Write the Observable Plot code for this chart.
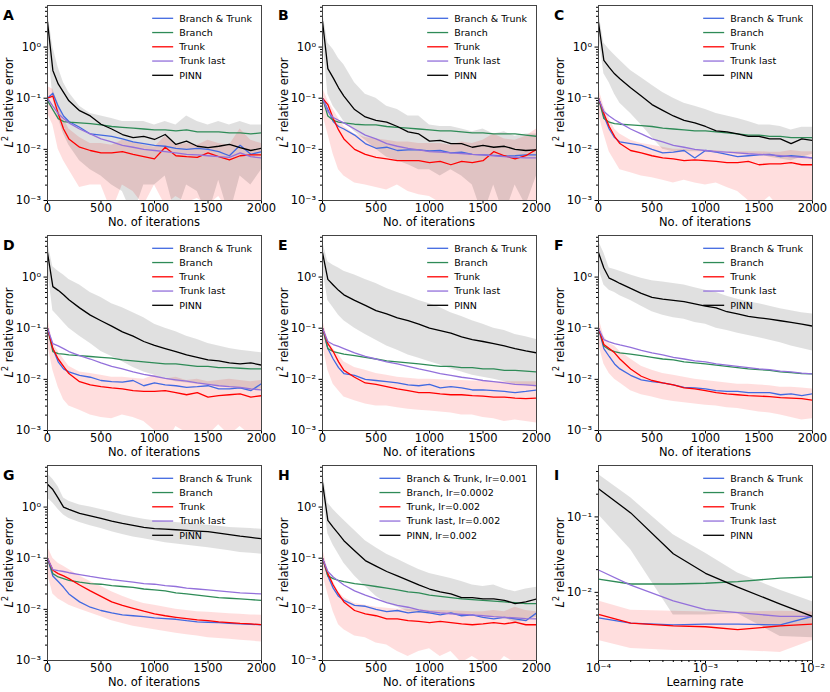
<!DOCTYPE html>
<html><head><meta charset="utf-8">
<script src="https://cdn.jsdelivr.net/npm/d3@7"></script>
<script src="https://cdn.jsdelivr.net/npm/@observablehq/plot@0.6"></script>
<style>
body{margin:0;background:#fff;}
#wrap{position:relative;width:830px;height:692px;font-family:"DejaVu Sans",sans-serif;}
.panel{position:absolute;}
</style></head><body><div id="wrap"></div><script>
// ---------- shared data ----------
const iters = [0,50,100,150,200,300,400,500,600,700,800,900,1000,1100,1200,1300,1400,1500,1600,1700,1800,1900,2000];
const learningRates = [1e-4,2e-4,5e-4,1e-3,2e-3,5e-3,1e-2];
const seriesNames = ["Branch & Trunk","Branch","Trunk","Trunk last","PINN"];
const seriesNamesH = ["Branch & Trunk, lr=0.001","Branch, lr=0.0002","Trunk, lr=0.002","Trunk last, lr=0.002","PINN, lr=0.002"];
const xTicksIter = [0,500,1000,1500,2000];
const xTicksLr = [1e-4,1e-3,1e-2];
const yTicksMain = [1e-3,1e-2,1e-1,1];
const yTicksI = [1e-2,1e-1];

// ---------- panel A ----------
const A_bt = [0.1,0.125,0.07,0.045,0.035,0.027,0.02,0.019,0.018,0.016,0.014,0.013,0.012,0.0115,0.0105,0.01,0.0105,0.01,0.009,0.0075,0.012,0.008,0.009];
const A_br = [0.09,0.06,0.04,0.035,0.034,0.033,0.032,0.03,0.028,0.027,0.026,0.025,0.024,0.024,0.023,0.024,0.022,0.022,0.022,0.021,0.021,0.02,0.021];
const A_tr = [0.1,0.11,0.05,0.025,0.016,0.011,0.0095,0.0085,0.0085,0.009,0.008,0.0072,0.0065,0.011,0.0075,0.0072,0.007,0.0085,0.0072,0.0062,0.0075,0.0078,0.0078];
const A_tl = [0.1,0.07,0.05,0.04,0.033,0.025,0.02,0.016,0.014,0.012,0.011,0.01,0.0095,0.009,0.0085,0.008,0.0078,0.0075,0.0072,0.007,0.0085,0.0072,0.0068];
const A_pinn = [3.1,0.35,0.19,0.13,0.089,0.057,0.045,0.031,0.025,0.0195,0.017,0.018,0.0156,0.0195,0.0125,0.0145,0.0115,0.0108,0.0115,0.0125,0.0108,0.0095,0.0105];
const A_pinnHi = [5,1.0,0.4,0.2,0.13,0.07,0.05,0.045,0.04,0.035,0.035,0.035,0.03,0.035,0.03,0.045,0.035,0.03,0.035,0.03,0.035,0.03,0.03];
const A_pinnLo = [1.5,0.1,0.04,0.02,0.012,0.006,0.004,0.003,0.002,0.0015,0.0005,0.002,0.002,0.003,0.0005,0.002,0.0015,0.0005,0.0025,0.0005,0.003,0.002,0.004];
const A_trHi = [0.17,0.15,0.08,0.04,0.025,0.017,0.013,0.013,0.012,0.015,0.014,0.012,0.011,0.018,0.012,0.013,0.012,0.015,0.013,0.012,0.025,0.015,0.013];
const A_trLo = [0.05,0.03,0.01,0.006,0.004,0.0018,0.002,0.002,0.0006,0.002,0.0015,0.0008,0.002,0.0008,0.0012,0.0009,0.0011,0.0008,0.0012,0.0006,0.001,0.0008,0.0009];

// ---------- panel B ----------
const B_bt = [0.1,0.06,0.035,0.028,0.025,0.019,0.013,0.0105,0.011,0.0095,0.0098,0.0098,0.0093,0.0095,0.0085,0.0088,0.008,0.0078,0.0076,0.0074,0.0075,0.0078,0.0078];
const B_br = [0.1,0.045,0.037,0.034,0.033,0.031,0.03,0.03,0.028,0.027,0.026,0.025,0.024,0.023,0.023,0.022,0.021,0.021,0.02,0.02,0.02,0.019,0.018];
const B_tr = [0.1,0.075,0.04,0.024,0.016,0.01,0.008,0.007,0.0065,0.006,0.006,0.006,0.0055,0.0058,0.005,0.0058,0.0055,0.006,0.009,0.0075,0.0065,0.0075,0.01];
const B_tl = [0.1,0.055,0.042,0.037,0.033,0.025,0.019,0.016,0.013,0.0115,0.0105,0.0098,0.009,0.0088,0.0085,0.0083,0.008,0.0078,0.0075,0.0072,0.007,0.0068,0.0068];
const B_pinn = [3.2,0.38,0.25,0.16,0.11,0.06,0.043,0.037,0.034,0.028,0.022,0.02,0.0145,0.015,0.013,0.013,0.011,0.012,0.011,0.0115,0.01,0.0095,0.0098];
const B_pinnHi = [5,1.2,0.9,0.6,0.45,0.2,0.12,0.1,0.07,0.06,0.045,0.045,0.03,0.028,0.028,0.025,0.022,0.025,0.02,0.022,0.018,0.02,0.02];
const B_pinnLo = [1.6,0.12,0.07,0.05,0.035,0.022,0.015,0.01,0.007,0.006,0.005,0.004,0.004,0.003,0.004,0.003,0.002,0.0005,0.002,0.0005,0.002,0.0008,0.003];
const B_trHi = [0.16,0.09,0.06,0.04,0.028,0.02,0.017,0.016,0.015,0.014,0.014,0.013,0.013,0.013,0.012,0.014,0.013,0.015,0.02,0.016,0.015,0.018,0.025];
const B_trLo = [0.05,0.02,0.008,0.004,0.003,0.0022,0.002,0.0018,0.0016,0.002,0.0015,0.0013,0.0012,0.0009,0.001,0.0008,0.0009,0.0008,0.0006,0.0007,0.0005,0.0005,0.0008];

// ---------- panel C ----------
const C_bt = [0.1,0.045,0.025,0.017,0.014,0.013,0.012,0.01,0.0085,0.0088,0.0095,0.0068,0.0095,0.0088,0.008,0.0072,0.0075,0.0078,0.008,0.0072,0.0075,0.0072,0.0068];
const C_br = [0.1,0.04,0.034,0.032,0.031,0.03,0.029,0.028,0.026,0.025,0.024,0.023,0.023,0.022,0.021,0.02,0.019,0.019,0.018,0.018,0.017,0.017,0.017];
const C_tr = [0.1,0.05,0.028,0.018,0.013,0.0095,0.0085,0.0075,0.0068,0.0065,0.006,0.0062,0.006,0.0058,0.0055,0.0055,0.0058,0.005,0.0052,0.0052,0.0055,0.005,0.005];
const C_tl = [0.1,0.055,0.045,0.038,0.033,0.025,0.02,0.016,0.014,0.012,0.011,0.01,0.0095,0.009,0.0088,0.0085,0.0082,0.008,0.0078,0.0075,0.0072,0.007,0.0068];
const C_pinn = [3,0.55,0.4,0.3,0.24,0.16,0.11,0.075,0.058,0.045,0.037,0.033,0.028,0.023,0.022,0.02,0.018,0.018,0.016,0.016,0.013,0.016,0.015];
const C_pinnHi = [5,1.2,0.9,0.7,0.55,0.35,0.25,0.18,0.13,0.1,0.08,0.07,0.06,0.05,0.045,0.04,0.035,0.03,0.03,0.028,0.024,0.027,0.027];
const C_pinnLo = [1.8,0.3,0.2,0.12,0.08,0.05,0.03,0.017,0.01,0.009,0.009,0.009,0.009,0.0085,0.009,0.008,0.008,0.008,0.007,0.0065,0.006,0.007,0.008];
const C_trHi = [0.16,0.07,0.04,0.025,0.02,0.015,0.013,0.012,0.011,0.01,0.01,0.0095,0.0095,0.0095,0.009,0.009,0.009,0.009,0.0088,0.0088,0.0095,0.009,0.009];
const C_trLo = [0.05,0.02,0.009,0.006,0.004,0.0035,0.003,0.0028,0.0025,0.0022,0.0025,0.0022,0.002,0.0022,0.0018,0.0015,0.001,0.0008,0.0012,0.0007,0.0009,0.0008,0.0009];

// ---------- panel D ----------
const D_bt = [0.1,0.04,0.022,0.016,0.014,0.012,0.011,0.0095,0.009,0.0088,0.0095,0.0075,0.0085,0.0078,0.0075,0.007,0.0072,0.0075,0.0065,0.0065,0.0068,0.006,0.0082];
const D_br = [0.1,0.035,0.032,0.031,0.03,0.029,0.028,0.027,0.026,0.024,0.023,0.022,0.021,0.02,0.02,0.019,0.018,0.018,0.017,0.017,0.0165,0.016,0.016];
const D_tr = [0.1,0.04,0.025,0.018,0.013,0.009,0.0078,0.0072,0.0068,0.0065,0.006,0.0058,0.0058,0.006,0.0055,0.005,0.0055,0.0045,0.0048,0.005,0.0052,0.0045,0.0048];
const D_tl = [0.1,0.05,0.045,0.04,0.035,0.029,0.025,0.021,0.018,0.016,0.014,0.0125,0.0115,0.0105,0.0098,0.0092,0.0085,0.008,0.0075,0.0072,0.007,0.0065,0.0062];
const D_pinn = [3,0.65,0.55,0.45,0.36,0.25,0.18,0.14,0.11,0.085,0.07,0.055,0.046,0.04,0.035,0.03,0.027,0.024,0.023,0.021,0.02,0.021,0.019];
const D_pinnHi = [5,1.6,1.3,1.1,0.9,0.7,0.5,0.4,0.3,0.25,0.2,0.16,0.12,0.1,0.085,0.07,0.06,0.05,0.045,0.04,0.037,0.035,0.033];
const D_pinnLo = [1.5,0.22,0.17,0.13,0.1,0.07,0.05,0.035,0.028,0.022,0.017,0.014,0.012,0.01,0.009,0.0085,0.008,0.0078,0.0075,0.007,0.0065,0.006,0.0065];
const D_trHi = [0.17,0.05,0.035,0.025,0.018,0.014,0.013,0.012,0.011,0.011,0.0105,0.01,0.012,0.01,0.011,0.0095,0.01,0.009,0.0095,0.01,0.0095,0.009,0.0095];
const D_trLo = [0.05,0.015,0.007,0.004,0.003,0.0025,0.002,0.0018,0.0017,0.002,0.0018,0.0015,0.001,0.0005,0.0012,0.0009,0.001,0.0008,0.0013,0.0008,0.0012,0.0008,0.0009];

// ---------- panel E ----------
const E_bt = [0.1,0.04,0.025,0.017,0.013,0.012,0.01,0.0095,0.009,0.0085,0.0078,0.0075,0.008,0.0068,0.0072,0.0068,0.0062,0.0062,0.006,0.0058,0.0055,0.0058,0.0062];
const E_br = [0.1,0.04,0.035,0.033,0.031,0.029,0.027,0.025,0.023,0.022,0.021,0.02,0.019,0.018,0.018,0.017,0.017,0.016,0.016,0.015,0.015,0.0145,0.014];
const E_tr = [0.1,0.05,0.035,0.022,0.015,0.011,0.0085,0.008,0.0072,0.0065,0.006,0.0055,0.0055,0.0052,0.005,0.005,0.0048,0.0047,0.0045,0.0045,0.0043,0.0042,0.0043];
const E_tl = [0.1,0.055,0.048,0.044,0.04,0.033,0.028,0.025,0.022,0.02,0.018,0.016,0.0145,0.013,0.012,0.011,0.0103,0.0095,0.009,0.0085,0.008,0.0078,0.0075];
const E_pinn = [3,0.9,0.7,0.55,0.45,0.35,0.28,0.22,0.19,0.16,0.14,0.12,0.1,0.09,0.08,0.068,0.06,0.055,0.05,0.045,0.04,0.036,0.033];
const E_pinnHi = [5,2,1.7,1.5,1.3,1.1,0.9,0.75,0.6,0.5,0.42,0.35,0.3,0.25,0.2,0.17,0.14,0.12,0.1,0.09,0.075,0.068,0.06];
const E_pinnLo = [1.5,0.35,0.25,0.18,0.14,0.1,0.075,0.058,0.045,0.037,0.03,0.026,0.022,0.019,0.016,0.014,0.012,0.011,0.01,0.009,0.008,0.0075,0.007];
const E_trHi = [0.15,0.06,0.04,0.03,0.022,0.017,0.015,0.013,0.012,0.011,0.0105,0.01,0.01,0.0098,0.0095,0.0095,0.0093,0.0092,0.009,0.009,0.009,0.009,0.009];
const E_trLo = [0.05,0.015,0.008,0.006,0.0045,0.0038,0.0033,0.003,0.003,0.0028,0.0026,0.0025,0.0024,0.0023,0.0022,0.002,0.002,0.0018,0.0017,0.0015,0.0016,0.0015,0.0014];

// ---------- panel F ----------
const F_bt = [0.1,0.04,0.028,0.02,0.016,0.012,0.0098,0.009,0.0085,0.0078,0.007,0.0068,0.0065,0.006,0.0058,0.0058,0.0055,0.0055,0.0055,0.005,0.0052,0.0048,0.0052];
const F_br = [0.1,0.045,0.038,0.035,0.033,0.031,0.029,0.027,0.025,0.024,0.022,0.021,0.02,0.019,0.018,0.017,0.016,0.0155,0.015,0.014,0.0135,0.013,0.0128];
const F_tr = [0.1,0.048,0.04,0.033,0.025,0.016,0.0115,0.0095,0.0085,0.0078,0.0068,0.0065,0.006,0.0055,0.0052,0.005,0.0048,0.0047,0.0046,0.0044,0.0043,0.0042,0.0039];
const F_tl = [0.1,0.06,0.054,0.05,0.047,0.042,0.037,0.033,0.03,0.027,0.025,0.023,0.022,0.02,0.019,0.018,0.017,0.016,0.0155,0.0145,0.014,0.0133,0.0128];
const F_pinn = [3,1.5,0.95,0.85,0.75,0.6,0.48,0.4,0.37,0.35,0.33,0.3,0.27,0.25,0.21,0.19,0.17,0.16,0.15,0.14,0.13,0.12,0.11];
const F_pinnHi = [5,3,1.5,1.4,1.3,1.1,0.95,0.85,0.8,0.75,0.7,0.62,0.55,0.5,0.42,0.37,0.33,0.3,0.27,0.24,0.22,0.2,0.19];
const F_pinnLo = [1.5,0.7,0.55,0.5,0.43,0.35,0.27,0.21,0.18,0.16,0.15,0.13,0.12,0.1,0.09,0.08,0.072,0.065,0.058,0.052,0.045,0.04,0.036];
const F_trHi = [0.17,0.07,0.05,0.045,0.035,0.025,0.018,0.015,0.013,0.012,0.011,0.01,0.0095,0.009,0.0085,0.008,0.008,0.0078,0.0075,0.007,0.007,0.0068,0.0065];
const F_trLo = [0.05,0.02,0.013,0.01,0.0085,0.006,0.005,0.0045,0.004,0.0037,0.0035,0.0033,0.0031,0.003,0.0028,0.0027,0.0025,0.0023,0.0022,0.002,0.0018,0.0016,0.0017];

// ---------- panel G ----------
const G_bt = [0.1,0.045,0.035,0.027,0.02,0.014,0.011,0.0095,0.0085,0.0078,0.0075,0.0072,0.0068,0.0066,0.0064,0.006,0.0057,0.0056,0.0055,0.0053,0.0052,0.0051,0.005];
const G_br = [0.1,0.05,0.043,0.04,0.037,0.034,0.032,0.031,0.029,0.028,0.027,0.025,0.024,0.023,0.021,0.02,0.019,0.018,0.017,0.0165,0.016,0.0155,0.015];
const G_tr = [0.1,0.058,0.05,0.045,0.04,0.03,0.023,0.018,0.014,0.012,0.0105,0.0092,0.0082,0.0075,0.007,0.0066,0.0062,0.006,0.0057,0.0055,0.0053,0.0052,0.005];
const G_tl = [0.1,0.06,0.057,0.055,0.052,0.048,0.044,0.041,0.038,0.036,0.034,0.032,0.031,0.029,0.028,0.026,0.025,0.024,0.023,0.022,0.021,0.0205,0.02];
const G_pinn = [2.8,2.2,1.5,1.0,0.9,0.75,0.67,0.6,0.53,0.48,0.44,0.4,0.38,0.37,0.36,0.35,0.34,0.33,0.31,0.29,0.27,0.255,0.24];
const G_pinnHi = [4.5,3.5,2.5,1.5,1.3,1.1,1.0,0.9,0.8,0.7,0.63,0.58,0.54,0.52,0.5,0.48,0.46,0.44,0.42,0.4,0.39,0.38,0.37];
const G_pinnLo = [1.5,1.2,0.9,0.7,0.6,0.5,0.43,0.38,0.33,0.29,0.26,0.24,0.22,0.2,0.19,0.18,0.17,0.16,0.15,0.14,0.13,0.125,0.12];
const G_trHi = [0.17,0.1,0.08,0.07,0.06,0.045,0.035,0.028,0.022,0.018,0.015,0.013,0.012,0.011,0.01,0.0095,0.009,0.0088,0.0085,0.0082,0.008,0.0078,0.0077];
const G_trLo = [0.05,0.02,0.016,0.014,0.012,0.01,0.0085,0.0072,0.006,0.0053,0.0047,0.0043,0.004,0.0037,0.0034,0.0032,0.003,0.0028,0.0027,0.0026,0.0025,0.0024,0.0023];

// ---------- panel H ----------
const H_bt = [0.1,0.045,0.026,0.018,0.015,0.012,0.0115,0.01,0.009,0.0095,0.0085,0.009,0.0085,0.0078,0.0085,0.0075,0.0078,0.007,0.0065,0.007,0.0065,0.006,0.0085];
const H_br = [0.1,0.045,0.04,0.037,0.035,0.032,0.03,0.028,0.026,0.024,0.022,0.021,0.019,0.018,0.017,0.016,0.0155,0.015,0.0145,0.014,0.0135,0.013,0.013];
const H_tr = [0.1,0.05,0.03,0.02,0.014,0.0095,0.0082,0.0075,0.0065,0.0065,0.006,0.0058,0.0055,0.0058,0.0055,0.0052,0.005,0.0052,0.0055,0.0052,0.0056,0.005,0.005];
const H_tl = [0.1,0.055,0.043,0.036,0.03,0.023,0.019,0.016,0.0135,0.012,0.011,0.0098,0.009,0.0085,0.0082,0.008,0.0078,0.0075,0.0072,0.007,0.0068,0.0066,0.0065];
const H_pinn = [3,0.55,0.4,0.3,0.22,0.14,0.09,0.07,0.055,0.045,0.037,0.03,0.025,0.022,0.02,0.017,0.017,0.016,0.016,0.015,0.013,0.014,0.016];
const H_pinnHi = [5,1.2,0.9,0.7,0.55,0.35,0.22,0.16,0.12,0.095,0.075,0.06,0.05,0.045,0.04,0.035,0.03,0.028,0.03,0.025,0.022,0.025,0.027];
const H_pinnLo = [1.8,0.3,0.18,0.12,0.08,0.045,0.028,0.018,0.013,0.011,0.009,0.0085,0.008,0.008,0.008,0.0075,0.008,0.0075,0.007,0.0068,0.0055,0.006,0.007];
const H_trHi = [0.16,0.06,0.035,0.022,0.017,0.013,0.012,0.011,0.0105,0.01,0.01,0.0098,0.0095,0.0095,0.0093,0.0092,0.009,0.009,0.0095,0.009,0.011,0.0095,0.009];
const H_trLo = [0.05,0.02,0.009,0.005,0.004,0.003,0.0028,0.0022,0.002,0.0015,0.0012,0.0015,0.0017,0.0012,0.0015,0.0009,0.0012,0.0009,0.0007,0.0012,0.0009,0.0008,0.0009];

// ---------- panel I (vs learning rate) ----------
const I_bt = [0.0046,0.0039,0.0037,0.0038,0.0038,0.0037,0.0048];
const I_br = [0.015,0.0129,0.0129,0.0132,0.0139,0.0154,0.016];
const I_tr = [0.0051,0.0039,0.0036,0.0035,0.0032,0.0036,0.0038];
const I_tl = [0.0198,0.0125,0.0077,0.0059,0.0054,0.0048,0.0048];
const I_pinn = [0.236,0.113,0.0325,0.0179,0.0117,0.007,0.0048];
const I_pinnHi = [0.366,0.179,0.058,0.033,0.018,0.0107,0.0075];
const I_pinnLo = [0.107,0.0367,0.005,0.005,0.0052,0.0026,0.0025];
const I_trHi = [0.0077,0.0058,0.0056,0.0055,0.0055,0.0056,0.0055];
const I_trLo = [0.0023,0.0018,0.0017,0.0017,0.0017,0.0016,0.0023];

// ---------- styles ----------
const seriesColors = ["royalblue","seagreen","red","mediumpurple","black"];

const panels = [
  {letter:"A", bt:A_bt, br:A_br, tr:A_tr, tl:A_tl, pinn:A_pinn, pHi:A_pinnHi, pLo:A_pinnLo, tHi:A_trHi, tLo:A_trLo},
  {letter:"B", bt:B_bt, br:B_br, tr:B_tr, tl:B_tl, pinn:B_pinn, pHi:B_pinnHi, pLo:B_pinnLo, tHi:B_trHi, tLo:B_trLo},
  {letter:"C", bt:C_bt, br:C_br, tr:C_tr, tl:C_tl, pinn:C_pinn, pHi:C_pinnHi, pLo:C_pinnLo, tHi:C_trHi, tLo:C_trLo},
  {letter:"D", bt:D_bt, br:D_br, tr:D_tr, tl:D_tl, pinn:D_pinn, pHi:D_pinnHi, pLo:D_pinnLo, tHi:D_trHi, tLo:D_trLo},
  {letter:"E", bt:E_bt, br:E_br, tr:E_tr, tl:E_tl, pinn:E_pinn, pHi:E_pinnHi, pLo:E_pinnLo, tHi:E_trHi, tLo:E_trLo},
  {letter:"F", bt:F_bt, br:F_br, tr:F_tr, tl:F_tl, pinn:F_pinn, pHi:F_pinnHi, pLo:F_pinnLo, tHi:F_trHi, tLo:F_trLo},
  {letter:"G", bt:G_bt, br:G_br, tr:G_tr, tl:G_tl, pinn:G_pinn, pHi:G_pinnHi, pLo:G_pinnLo, tHi:G_trHi, tLo:G_trLo},
  {letter:"H", bt:H_bt, br:H_br, tr:H_tr, tl:H_tl, pinn:H_pinn, pHi:H_pinnHi, pLo:H_pinnLo, tHi:H_trHi, tLo:H_trLo},
  {letter:"I", bt:I_bt, br:I_br, tr:I_tr, tl:I_tl, pinn:I_pinn, pHi:I_pinnHi, pLo:I_pinnLo, tHi:I_trHi, tLo:I_trLo}
];

const SUP = {"-":"\u207B","0":"\u2070","1":"\u00B9","2":"\u00B2","3":"\u00B3","4":"\u2074","5":"\u2075"};
const powFmt = d => "10" + String(Math.round(Math.log10(d))).split("").map(c => SUP[c]).join("");
function minorLog([d0, d1]) {
  const out = [];
  for (let e = Math.floor(Math.log10(d0)); e <= Math.floor(Math.log10(d1)); e++) {
    for (let k = 2; k <= 9; k++) {
      const v = +(k * Math.pow(10, e)).toPrecision(6);
      if (v >= d0 && v <= d1) out.push(v);
    }
  }
  return out;
}

const wrap = document.getElementById("wrap");
const colX = [0, 275, 551], rowY = [0, 230, 460];
const keys = ["bt","br","tr","tl","pinn"];

panels.forEach((p, idx) => {
  const col = idx % 3, row = Math.floor(idx / 3);
  const W = 275, H = row === 2 ? 232 : 230;
  const mL = 47, mR = 14, mT = 5, mB = H - 200;
  const isLr = p.letter === "I";
  const xs = isLr ? learningRates : iters;
  const table = xs.map((x, i) => ({x, bt:p.bt[i], br:p.br[i], tr:p.tr[i], tl:p.tl[i], pinn:p.pinn[i],
    tLo:p.tLo[i], tHi:p.tHi[i], pLo:p.pLo[i], pHi:p.pHi[i]}));
  const yDomain = isLr ? [0.00125, 0.48] : [1e-3, 6.5];
  const xDomain = isLr ? [1e-4, 1e-2] : [0, 2000];
  const yMin = minorLog(yDomain);
  const xMin = isLr ? minorLog(xDomain) : [];
  const marks = [
    Plot.areaY(table, {x:"x", y1:"tLo", y2:"tHi", fill:"red", fillOpacity:0.13, clip:true}),
    Plot.areaY(table, {x:"x", y1:"pLo", y2:"pHi", fill:"black", fillOpacity:0.12, clip:true}),
    ...keys.map((k, i) => Plot.lineY(table, {x:"x", y:k, stroke:seriesColors[i], strokeWidth:1.3, clip:true})),
    Plot.axisX({ticks: isLr ? xTicksLr : xTicksIter, tickFormat: isLr ? powFmt : (d => String(d)), tickSize:3.5, tickPadding:0, label:null}),
    Plot.axisY({ticks: isLr ? yTicksI : yTicksMain, tickFormat: powFmt, tickSize:3.5, tickPadding:3, label:null}),
    Plot.axisY({ticks: yMin, tickSize:2, tickFormat: () => "", label:null}),
    Plot.frame({stroke:"#444", strokeWidth:1})
  ];
  if (xMin.length) marks.push(Plot.axisX({ticks: xMin, tickSize:2, tickFormat: () => "", label:null}));
  const chart = Plot.plot({
    width: W, height: H, marginLeft: mL, marginRight: mR, marginTop: mT, marginBottom: mB,
    style: {background:"transparent", overflow:"visible", fontFamily:"'DejaVu Sans', sans-serif", fontSize:"11.5px", color:"black"},
    x: {type: isLr ? "log" : "linear", domain: xDomain},
    y: {type: "log", domain: yDomain},
    marks
  });
  const div = document.createElement("div");
  div.className = "panel";
  div.style.left = colX[col] + "px";
  div.style.top = rowY[row] + "px";
  div.appendChild(chart);
  wrap.appendChild(div);

  const svg = d3.select(chart);
  const frameR = W - mR, frameB = 200, midX = mL + (frameR - mL) / 2, midY = mT + (frameB - mT) / 2;
  // panel letter
  svg.append("text").attr("x", 3).attr("y", 19.5).attr("text-anchor", "start").attr("font-size", 14)
    .attr("font-weight", "bold").attr("fill", "black").text(p.letter);
  // x label
  svg.append("text").attr("x", midX).attr("y", 225.5).attr("text-anchor", "middle").attr("font-size", 11.5).attr("fill", "black")
    .text(isLr ? "Learning rate" : "No. of iterations");
  // y label
  const yl = svg.append("text").attr("transform", `translate(9,${midY}) rotate(-90)`).attr("text-anchor", "middle")
    .attr("dominant-baseline", "central").attr("font-size", 11.5).attr("fill", "black");
  yl.append("tspan").attr("font-style", "italic").text("L");
  yl.append("tspan").attr("font-size", 8).attr("dy", -4.5).text("2");
  yl.append("tspan").attr("dy", 4.5).text(" relative error");
  // legend
  const names = p.letter === "H" ? seriesNamesH : seriesNames;
  const g = svg.append("g").attr("font-size", 9.5).attr("fill", "black").attr("text-anchor", "start");
  const texts = names.map((n, i) => g.append("text").attr("text-anchor", "start").attr("y", mT + 13.3 + i * 14.25).attr("dy", "0.35em").text(n));
  const maxW = d3.max(texts, t => t.node().getComputedTextLength());
  const tx = frameR - 9 - maxW;
  texts.forEach(t => t.attr("x", tx));
  names.forEach((n, i) => {
    const y = mT + 13.3 + i * 14.25;
    g.append("line").attr("x1", tx - 27).attr("x2", tx - 6).attr("y1", y).attr("y2", y)
      .attr("stroke", seriesColors[i]).attr("stroke-width", 1.3);
  });
});
</script></body></html>
